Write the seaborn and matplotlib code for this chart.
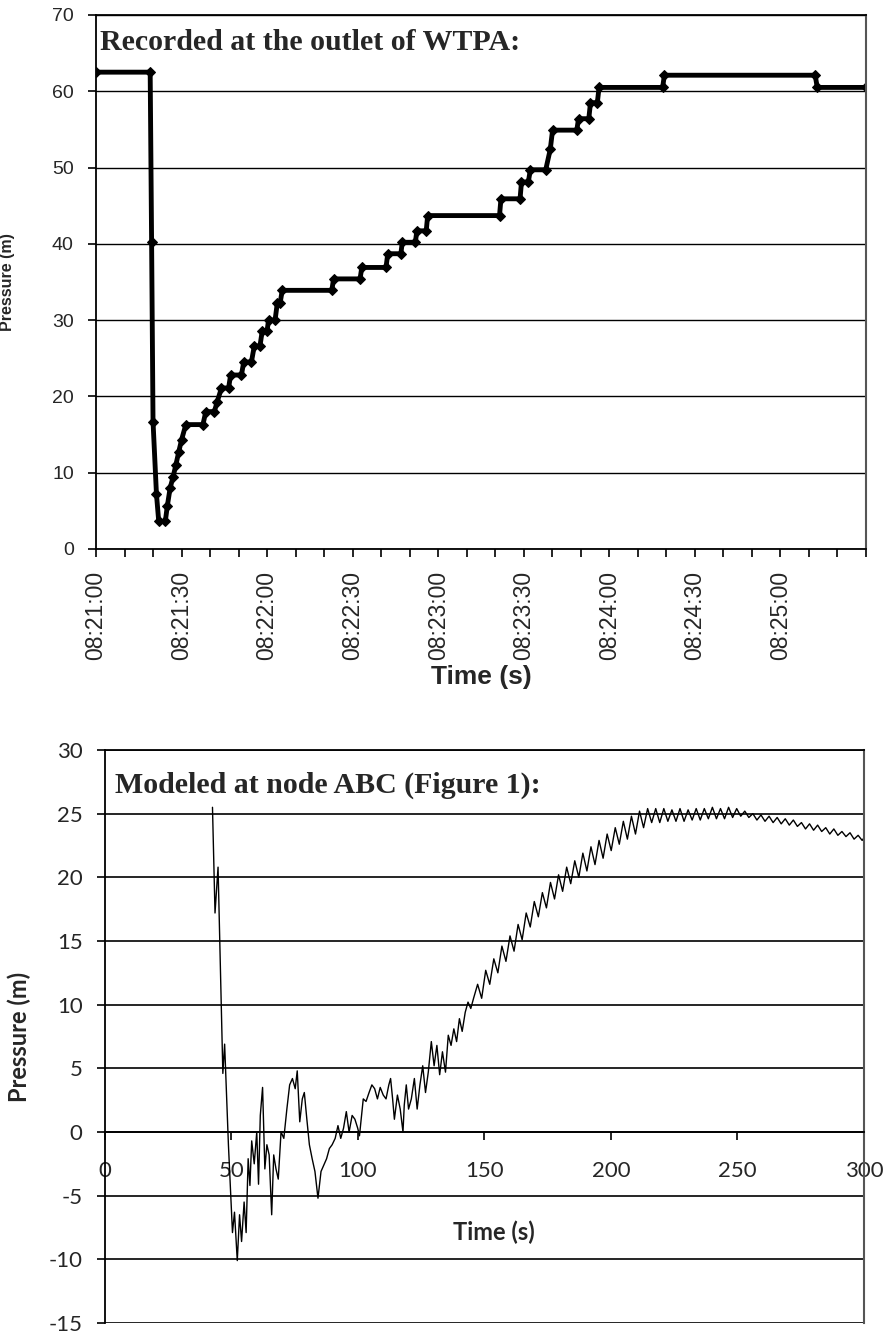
import numpy as np
import pandas as pd
import seaborn as sns
import matplotlib.pyplot as plt

# Recorded pressure at the outlet of WTPA (seconds after 08:21:00, m)
rec_time = [0, 19, 19.5, 20, 21.2, 22, 24.3, 25, 26, 27, 28, 29, 30, 31.5, 37.5,
            38.5, 41.5, 42.5, 44, 46.5, 47.2, 51, 51.8, 54.5, 55.5, 57.5, 58.3,
            60, 60.5, 62.8, 63.6, 64.6, 65.3, 82.7, 83.3, 92.6, 93.2, 101.7,
            102.3, 106.9, 107.4, 112, 112.5, 115.8, 116.3, 141.5, 142, 148.7,
            149.2, 151.6, 152.3, 157.7, 159.3, 160.1, 168.6, 169.2, 172.8, 173.4,
            175.8, 176.4, 198.7, 199.3, 252.2, 252.9, 270]
rec_pressure = [62.5, 62.5, 40.2, 16.7, 7.2, 3.6, 3.6, 5.6, 8.0, 9.4, 11.0, 12.7,
                14.3, 16.3, 16.3, 18.0, 18.0, 19.3, 21.1, 21.1, 22.8, 22.8, 24.5,
                24.5, 26.6, 26.6, 28.6, 28.6, 30.0, 30.0, 32.3, 32.3, 33.9, 33.9,
                35.4, 35.4, 36.9, 36.9, 38.7, 38.7, 40.2, 40.2, 41.7, 41.7, 43.7,
                43.7, 45.9, 45.9, 48.1, 48.1, 49.7, 49.7, 52.4, 54.9, 54.9, 56.4,
                56.4, 58.5, 58.5, 60.5, 60.5, 62.1, 62.1, 60.5, 60.5]
rec_tick_labels = ['08:21:00', '08:21:30', '08:22:00', '08:22:30', '08:23:00',
                   '08:23:30', '08:24:00', '08:24:30', '08:25:00']

# Modeled pressure at node ABC (s, m)
mod_time = [42.5, 43.5, 44.7, 46.6, 47.3, 48.8, 50.4, 51.2, 52.3, 53.2, 54.0, 55.0,
            55.8, 56.6, 57.3, 58.0, 59.0, 60.0, 60.7, 61.4, 62.3, 63.2, 64.0, 64.9,
            65.9, 66.7, 67.6, 68.5, 69.6, 70.7, 71.9, 73.0, 74.1, 75.2, 76.0, 77.0,
            78.0, 78.8, 79.8, 80.8, 81.9, 83.0, 84.2,
            85.4, 86.5, 87.6, 88.7, 89.8, 91.0, 92.1, 93.2, 94.3, 95.4, 96.5, 97.7,
            98.8, 99.9, 100.6, 102.1, 103.2, 104.4, 105.5, 106.6, 107.7, 108.8,
            110.0, 111.1, 112.2, 112.9, 113.7, 114.4, 115.6, 116.7, 117.8, 118.3,
            119.1, 120.0, 121.1, 122.3, 123.4, 124.5, 125.6, 126.7, 127.8, 129.0,
            130.1, 131.2, 132.3, 133.4, 134.6, 135.7, 136.8, 137.9, 139.0, 140.1,
            141.2, 142.4, 143.5, 144.6, 145.7,
            147.3, 148.9, 150.5, 152.1, 153.7, 155.3, 156.9, 158.5, 160.1, 161.7,
            163.3, 164.9, 166.5, 168.1, 169.7, 171.3, 172.9, 174.5, 176.1, 177.7,
            179.3, 180.9, 182.5, 184.1, 185.7, 187.3, 188.9, 190.5, 192.1, 193.7,
            195.3, 196.9, 198.5, 200.1, 201.7, 203.3, 204.9, 206.5, 208.1, 209.7,
            211.3, 212.9, 214.5, 216.1, 217.7, 219.3, 220.9, 222.5, 224.1, 225.7,
            227.3, 228.9, 230.5, 232.1, 233.7, 235.3, 236.9, 238.5, 240.1, 241.7,
            243.3, 244.9, 246.5, 248.1, 249.7, 251.3, 252.9, 254.5, 256.1, 257.7,
            259.3, 260.9, 262.5, 264.1, 265.7, 267.3, 268.9, 270.5, 272.1, 273.7,
            275.3, 276.9, 278.5, 280.1, 281.7, 283.3, 284.9, 286.5, 288.1, 289.7,
            291.3, 292.9, 294.5, 296.1, 297.7, 299.3, 300.0]
mod_pressure = [25.5, 17.2, 20.8, 4.6, 6.9, -1.0, -7.9, -6.3, -10.1, -6.5, -8.6, -5.5,
                -7.9, -2.1, -4.2, -0.7, -2.5, 0.0, -4.1, 1.3, 3.5, -2.9, -1.0, -1.8,
                -6.5, -1.8, -2.9, -3.7, 0.0, -0.5, 1.8, 3.7, 4.2, 3.4, 4.8, 0.8,
                2.6, 3.1, 1.0, -1.0, -2.1, -3.1, -5.2,
                -3.1, -2.6, -2.1, -1.3, -1.0, -0.5, 0.5, -0.5, 0.3, 1.6, 0.0, 1.3,
                1.0, 0.3, -0.3, 2.6, 2.4, 3.1, 3.7, 3.4, 2.6, 3.5,
                2.9, 2.6, 3.7, 4.2, 2.6, 1.0, 2.9, 1.8, 0.0, 2.1,
                3.7, 1.8, 2.6, 4.2, 1.8, 3.7, 5.2, 3.1, 4.7, 7.1,
                5.2, 6.8, 4.5, 6.3, 4.7, 7.6, 6.8, 8.1, 7.1, 8.9,
                7.9, 9.4, 10.2, 9.7, 10.5,
                11.6, 10.5, 12.7, 11.6, 13.6, 12.5, 14.6, 13.4, 15.4, 14.2,
                16.3, 15.1, 17.2, 16.1, 18.1, 16.9, 18.8, 17.6, 19.6, 18.3,
                20.2, 18.9, 20.8, 19.5, 21.3, 20.0, 21.9, 20.5, 22.4, 21.0,
                22.9, 21.5, 23.4, 22.1, 23.9, 22.6, 24.4, 23.0, 24.8, 23.4,
                25.2, 23.9, 25.4, 24.3, 25.4, 24.3, 25.4, 24.4, 25.3, 24.4,
                25.4, 24.4, 25.3, 24.5, 25.4, 24.5, 25.4, 24.6, 25.5, 24.6,
                25.4, 24.6, 25.5, 24.7, 25.4, 24.8, 25.2, 24.7, 25.0, 24.5,
                24.9, 24.4, 24.8, 24.3, 24.7, 24.2, 24.6, 24.1, 24.5, 24.0,
                24.3, 23.8, 24.2, 23.7, 24.1, 23.6, 23.9, 23.4, 23.8, 23.3,
                23.6, 23.2, 23.5, 23.0, 23.3, 22.9, 23.1]

sns.set_style("white")
plt.rcParams['font.family'] = ['Liberation Sans', 'DejaVu Sans']
plt.rcParams['axes.unicode_minus'] = False

fig = plt.figure(figsize=(8.88, 13.35), dpi=100)
ax1 = fig.add_axes([0.1081, 0.5888, 0.8671, 0.4])
ax2 = fig.add_axes([0.1182, 0.009, 0.8547, 0.4292])

# --- top: recorded ---
df_rec = pd.DataFrame({'Time': rec_time, 'Pressure': rec_pressure})
sns.lineplot(data=df_rec, x='Time', y='Pressure', ax=ax1, color='black',
             linewidth=3.5, marker='D', markersize=5, markeredgecolor='black',
             markerfacecolor='black', estimator=None, sort=False)
ax1.set_xlim(0, 270)
ax1.set_ylim(0, 70)
ax1.set_yticks(range(0, 71, 10))
ax1.yaxis.grid(True, color='black', linewidth=1)
ax1.set_xticks(range(0, 271, 10))
xlabels = [''] * 28
for i, lab in enumerate(rec_tick_labels):
    xlabels[i * 3] = lab
ax1.set_xticklabels(xlabels, rotation=90, fontsize=16.5)
ax1.tick_params(axis='y', labelsize=14, pad=10)
ax1.tick_params(axis='both', direction='out', length=6, width=1.2,
                color='black', bottom=True, left=True)
ax1.tick_params(axis='x', pad=10)
for side in ['left', 'bottom', 'top']:
    ax1.spines[side].set_color('black')
    ax1.spines[side].set_linewidth(1.3)
ax1.spines['right'].set_color('#555555')
ax1.spines['right'].set_linewidth(1.5)
ax1.set_ylabel('Pressure (m)', fontsize=11.5, fontweight='bold')
ax1.yaxis.set_label_coords(-0.105, 0.5)
ax1.set_xlabel('Time (s)', fontsize=19, fontweight='bold')
ax1.xaxis.set_label_coords(0.501, -0.218)
ax1.text(0.005, 0.934, 'Recorded at the outlet of WTPA:', transform=ax1.transAxes,
         family='Liberation Serif', fontweight='bold', fontsize=21.5,
         va='baseline', ha='left')

# --- bottom: modeled ---
df_mod = pd.DataFrame({'Time': mod_time, 'Pressure': mod_pressure})
sns.lineplot(data=df_mod, x='Time', y='Pressure', ax=ax2, color='black',
             linewidth=1.0, estimator=None, sort=False)
ax2.set_xlim(0, 300)
ax2.set_ylim(-15, 30)
ax2.set_yticks(range(-15, 31, 5))
ax2.set_xticks(range(0, 301, 50))
ax2.yaxis.grid(True, color='black', linewidth=1.2)
ax2.spines['bottom'].set_position(('data', 0))
ax2.tick_params(axis='both', direction='out', length=6, width=1.2,
                color='black', bottom=True, left=True)
ax2.tick_params(axis='x', pad=15)
ax2.tick_params(axis='y', pad=10)
for lab in ax2.get_xticklabels() + ax2.get_yticklabels():
    lab.set_family('Lato')
    lab.set_fontsize(16)
for side in ['left', 'bottom', 'top']:
    ax2.spines[side].set_color('black')
    ax2.spines[side].set_linewidth(1.3)
ax2.spines['right'].set_color('#555555')
ax2.spines['right'].set_linewidth(1.5)
ax2.set_ylabel('Pressure (m)', fontsize=17, fontweight='bold', family='Lato')
ax2.yaxis.set_label_coords(-0.098, 0.5)
ax2.set_xlabel('Time (s)', fontsize=17, fontweight='bold', family='Lato')
ax2.xaxis.set_label_coords(0.512, 0.178)
ax2.text(0.013, 0.925, 'Modeled at node ABC (Figure 1):', transform=ax2.transAxes,
         family='Liberation Serif', fontweight='bold', fontsize=21.5,
         va='baseline', ha='left')

fig.savefig('out.png', dpi=100)
